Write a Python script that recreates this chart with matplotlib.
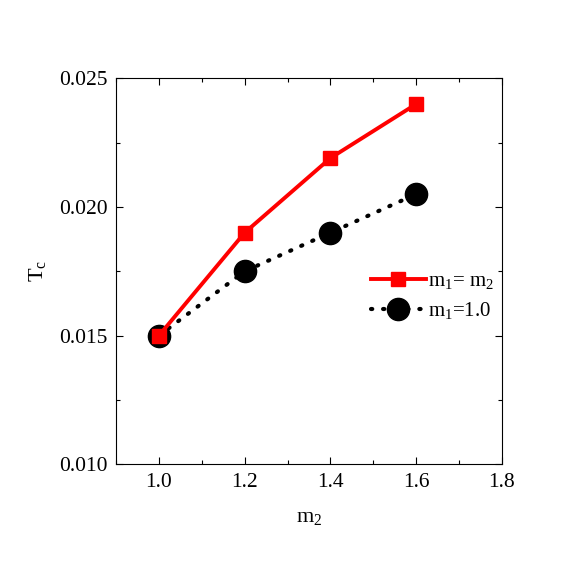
import matplotlib
matplotlib.use("Agg")
import matplotlib.pyplot as plt
from matplotlib.ticker import MultipleLocator

plt.rcParams["font.family"] = ["Liberation Serif", "DejaVu Serif"]
plt.rcParams["mathtext.fontset"] = "custom"
plt.rcParams["mathtext.rm"] = "Liberation Serif"
plt.rcParams["mathtext.it"] = "Liberation Serif"

M2 = [1.0, 1.2, 1.4, 1.6]
TC_EQUAL = [0.0150, 0.0190, 0.0219, 0.0240]   # m1 = m2
TC_FIXED = [0.0150, 0.0175, 0.0190, 0.0205]   # m1 = 1.0

fig = plt.figure(figsize=(5.81, 5.81), dpi=100)
ax = fig.add_axes([0.1997, 0.2009, 0.6644, 0.6644])

l2, = ax.plot(M2, TC_FIXED, color="black", ls=(0, (0.3, 2.6)), lw=3.0,
              dash_capstyle="round", marker="o", ms=16, label=r"$\mathrm{m_1}$=1.0")
l1, = ax.plot(M2, TC_EQUAL, color="red", lw=2.8, marker="s", ms=10,
              label=r"$\mathrm{m_1}$= $\mathrm{m_2}$")

ax.set_xlim(0.9, 1.8)
ax.set_ylim(0.010, 0.025)
ax.xaxis.set_major_locator(MultipleLocator(0.2))
ax.xaxis.set_minor_locator(MultipleLocator(0.1))
ax.yaxis.set_major_locator(MultipleLocator(0.005))
ax.yaxis.set_minor_locator(MultipleLocator(0.0025))
ax.xaxis.set_major_formatter(plt.FormatStrFormatter("%.1f"))
ax.yaxis.set_major_formatter(plt.FormatStrFormatter("%.3f"))
ax.tick_params(which="both", direction="in", top=True, right=True, labelsize=15.5)
ax.tick_params(which="major", length=5, width=0.8, pad=6)
ax.tick_params(which="minor", length=3, width=0.8)

ax.set_xlabel(r"$\mathrm{m_2}$", fontsize=16, labelpad=12)
ax.set_ylabel(r"$\mathrm{T_c}$", fontsize=16, labelpad=8)

ax.legend(handles=[l1, l2], loc="center left", bbox_to_anchor=(0.64, 0.435),
          frameon=False, fontsize=15, handlelength=2.6, handletextpad=0.1,
          labelspacing=0.4, borderaxespad=0.0)

fig.savefig("out.png", dpi=100)
